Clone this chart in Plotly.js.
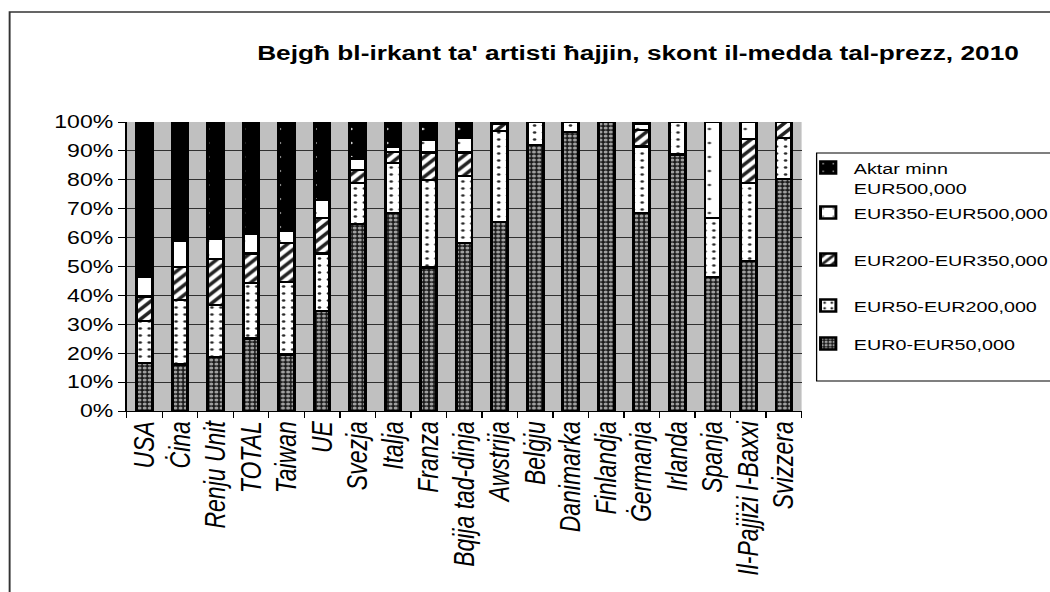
<!DOCTYPE html>
<html>
<head>
<meta charset="utf-8">
<script src="https://cdn.plot.ly/plotly-3.0.1.min.js"></script>
<style>
html,body{margin:0;padding:0;background:#fff;overflow:hidden;}
#wrap{width:1050px;height:592px;overflow:hidden;}
#chart{width:820px;height:592px;transform:scaleX(1.2805);transform-origin:0 0;}
</style>
</head>
<body>
<div id="wrap"><div id="chart"></div></div>
<script>
const categories = ["USA","Ċina","Renju Unit","TOTAL","Taiwan","UE","Svezja","Italja","Franza","Bqija tad-dinja","Awstrija","Belġju","Danimarka","Finlandja","Ġermanja","Irlanda","Spanja","Il-Pajjiżi l-Baxxi","Svizzera"];
const eur0_50      = [16.5,16.1,18.6,25.1,19.6,34.6,64.7,68.4,49.7,58.2,65.5,92.0,96.6,100,68.4,88.8,46.3,52.0,80.3];
const eur50_200    = [14.6,22.3,18.1,19.1,25.1,19.9,14.1,17.3,30.2,23.1,31.5,8.0,3.4,0,23.1,11.2,20.4,27.0,14.1];
const eur200_350   = [8.5,11.5,15.9,10.3,13.5,12.2,4.6,3.8,9.5,8.1,2.5,0,0,0,5.7,0,0,15.1,5.6];
const eur350_500   = [6.7,9.0,7.1,6.7,4.1,6.3,4.0,2.0,4.4,5.2,0.5,0,0,0,2.0,0,33.3,5.9,0];
const eurAbove500  = [53.7,41.1,40.3,38.8,37.7,27.0,12.6,8.5,6.2,5.4,0,0,0,0,0.8,0,0,0,0];
const seriesNames = ["EUR0-EUR50,000","EUR50-EUR200,000","EUR200-EUR350,000","EUR350-EUR500,000","Aktar minn<br>EUR500,000"];
const yTicks = [0,10,20,30,40,50,60,70,80,90,100];
const titleText = "Bejgħ bl-irkant ta' artisti ħajjin, skont il-medda tal-prezz, 2010";

const patterns = [
  {shape: ".", bgcolor: "#1a1a1a", fgcolor: "#a0a0a0", size: 4, solidity: 0.5},
  {shape: ".", bgcolor: "#ffffff", fgcolor: "#2a2a2a", size: 7, solidity: 0.12},
  {shape: "/", bgcolor: "#ffffff", fgcolor: "#222222", size: 7, solidity: 0.45},
  {shape: ".", bgcolor: "#ffffff", fgcolor: "#444444", size: 14, solidity: 0.03},
  {shape: ".", bgcolor: "#000000", fgcolor: "#dddddd", size: 14, solidity: 0.03}
];
const allSeries = [eur0_50, eur50_200, eur200_350, eur350_500, eurAbove500];
// legend entry centre lines (reference pixel rows), one legend per series
const legendRows = [344, 306, 260, 213, 178];
const legendIds = ["legend5", "legend4", "legend3", "legend2", "legend"];

const S = 1.2805;                 // horizontal stretch of the reference picture
const W = 1050, H = 592;
const L = 127, R = 801, T = 122, B = 411;   // plot area in reference pixels
const pw = R - L, ph = B - T;
const px = v => (v - L) / pw;
const py = v => (B - v) / ph;
const FONT = "Liberation Sans, Arial, sans-serif";

const traces = allSeries.map((vals, i) => ({
  type: "bar",
  x: categories,
  y: vals,
  name: seriesNames[i],
  legend: legendIds[i],
  marker: {color: patterns[i].bgcolor, pattern: patterns[i], line: {color: "#000", width: 2.3}},
  hoverinfo: "skip"
}));
traces.push({type: "scatter", x: [0], y: [0], xaxis: "x2", yaxis: "y", mode: "markers",
  marker: {opacity: 0}, showlegend: false, hoverinfo: "skip"});

const legendX = px(802);
const layout = {
  width: Math.round(W / S), height: H,
  margin: {l: L / S, r: (W - R) / S, t: T, b: H - B, autoexpand: false},
  paper_bgcolor: "#ffffff",
  plot_bgcolor: "#c0c0c0",
  barmode: "stack",
  bargap: 0.56,
  font: {family: FONT, color: "#000"},
  title: {text: titleText, font: {family: FONT, size: 20.5, weight: "bold", color: "#000"},
          xref: "container", x: 638 / W, xanchor: "center", yref: "container", y: 1 - 53 / H, yanchor: "middle"},
  xaxis: {type: "category", tickmode: "linear", tick0: 0, dtick: 1, tickson: "boundaries", ticks: "outside",
          ticklen: 6, tickcolor: "#000", showline: true, linecolor: "#000", linewidth: 1, showgrid: false,
          tickangle: -90, tickfont: {family: FONT, size: 23, style: "italic", color: "#000"},
          range: [-0.5, categories.length - 0.5]},
  xaxis2: {type: "linear", overlaying: "x", range: [-0.5, categories.length - 0.5], tick0: 0.235, dtick: 1,
           showgrid: true, gridcolor: "#6e6e6e", gridwidth: 1, showticklabels: false, ticks: "", showline: false, zeroline: false},
  yaxis: {range: [0, 100], tickvals: yTicks, ticktext: yTicks.map(v => v + "%"), ticks: "outside", ticklen: 6,
          tickcolor: "#000", showline: true, linecolor: "#000", linewidth: 1, showgrid: true, gridcolor: "#303030",
          gridwidth: 1, zeroline: false, tickfont: {family: FONT, size: 18, color: "#000"}},
  showlegend: true,
  shapes: [
    {type: "rect", xref: "paper", yref: "paper", x0: px(816), x1: px(1070), y0: py(381), y1: py(153),
     line: {color: "#000", width: 1}, fillcolor: "#ffffff", layer: "below"},
    {type: "rect", xref: "paper", yref: "paper", x0: px(10), x1: px(1100), y0: py(700), y1: py(12),
     line: {color: "#333", width: 1.5}, fillcolor: "rgba(0,0,0,0)", layer: "below"}
  ]
};
legendIds.forEach((id, i) => {
  layout[id] = {x: legendX, xanchor: "left", y: py(legendRows[i]), yanchor: "middle",
                bgcolor: "rgba(0,0,0,0)", borderwidth: 0, valign: i === 4 ? "top" : "middle",
                font: {family: FONT, size: 15.4, color: "#000"}};
});

Plotly.newPlot("chart", traces, layout, {staticPlot: true, displayModeBar: false});
</script>
</body>
</html>
